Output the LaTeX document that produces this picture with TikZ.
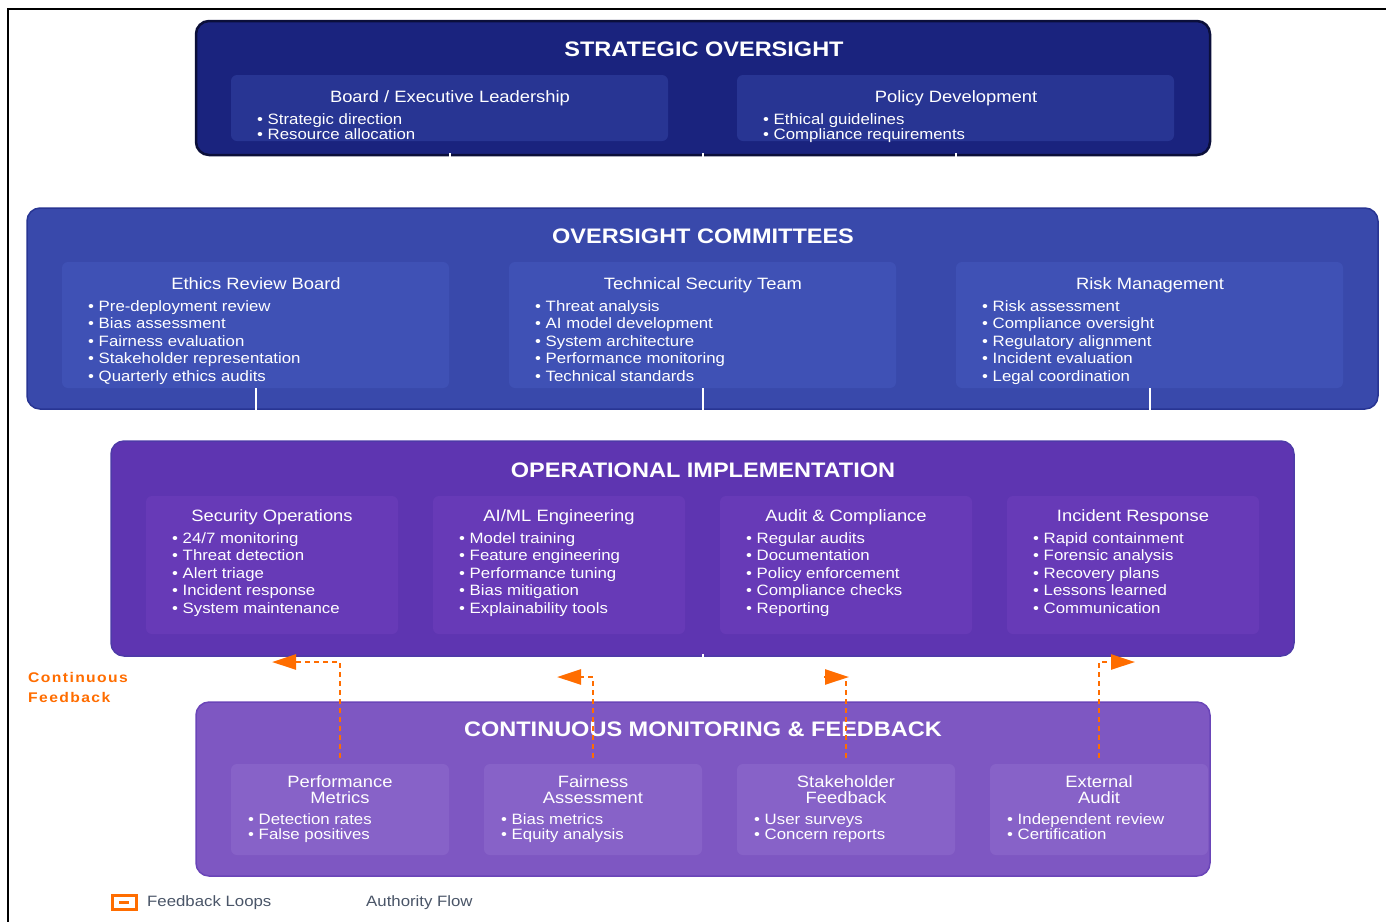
\documentclass[tikz,border=0pt]{standalone}
\usepackage{fontspec}
\setmainfont{Liberation Sans}[FakeStretch=1.12]
\usetikzlibrary{arrows.meta}

\definecolor{stratfill}{HTML}{1A237E}
\definecolor{stratsub}{HTML}{283593}
\definecolor{stratline}{HTML}{0B0F3A}
\definecolor{commfill}{HTML}{3949AB}
\definecolor{commsub}{HTML}{3F51B5}
\definecolor{commline}{HTML}{283593}
\definecolor{opsfill}{HTML}{5E35B1}
\definecolor{opssub}{HTML}{673AB7}
\definecolor{opsline}{HTML}{4E3AA8}
\definecolor{monfill}{HTML}{7E57C2}
\definecolor{monsub}{HTML}{8762C8}
\definecolor{monline}{HTML}{6A45B8}
\definecolor{fborange}{HTML}{FF6D00}
\definecolor{legendgray}{HTML}{4A5568}

% one node per bullet line: name prefix, left x, first baseline, line step, items
\newcommand\bulletitems[5]{%
  \foreach \txt [count=\k from 0] in {#5}{%
    \node[itemtext] (#1-\k) at (#2, {#3+\k*#4}) {• \txt};}}

\tikzset{
  layer/.style={rectangle, rounded corners=13pt, line width=1.5pt, inner sep=0pt},
  subbox/.style={rectangle, rounded corners=6pt, inner sep=0pt},
  layertitle/.style={text=white, font=\fontsize{21}{21}\selectfont\bfseries, anchor=base, inner sep=0pt},
  heading/.style={text=white, font=\fontsize{16.4}{16.4}\selectfont, anchor=base, inner sep=0pt},
  itemtext/.style={text=white, font=\fontsize{15}{15}\selectfont, anchor=base west, inner sep=0pt},
  authority/.style={draw=white, line width=2pt},
  feedback/.style={draw=fborange, line width=2.5pt, dash pattern=on 5pt off 4pt},
  fbtip/.style={-{Triangle[length=24pt,width=15pt]}},
  legendtext/.style={text=legendgray, font=\fontsize{15}{15}\selectfont, anchor=base west, inner sep=0pt},
}

\begin{document}
\begin{tikzpicture}[x=1pt, y=-1pt]
\useasboundingbox (0,0) rectangle (1386,922);
\fill[white] (0,0) rectangle (1386,922);
% page frame
\draw[black, line width=2.5pt] (1386,9) -- (8,9) -- (8,922);

% ---------- strategic oversight ----------
\node[layer, fill=stratfill, draw=stratline, line width=2.5pt,
      minimum width=1014pt, minimum height=134pt] (strat) at (703,88) {};
\node[layertitle] (strat-t) at (704,56) {STRATEGIC OVERSIGHT};
\node[subbox, fill=stratsub, minimum width=437pt, minimum height=66pt] (board) at (449.5,108) {};
\node[subbox, fill=stratsub, minimum width=437pt, minimum height=66pt] (policy) at (955.5,108) {};
\node[heading] (board-h) at (450,102) {Board / Executive Leadership};
\node[heading] (policy-h) at (956,102) {Policy Development};
\bulletitems{board}{257}{124}{15}{Strategic direction,Resource allocation}
\bulletitems{policy}{763}{124}{15}{Ethical guidelines,Compliance requirements}

% authority flow: strategic -> committees
\draw[authority] ([yshift=3pt]strat.south -| board.south) -- (board.south |- 0,210);
\draw[authority] ([yshift=3pt]strat.south) -- (strat.south |- 0,210);
\draw[authority] ([yshift=3pt]strat.south -| policy.south) -- (policy.south |- 0,210);

% ---------- oversight committees ----------
\node[layer, fill=commfill, draw=commline,
      minimum width=1351pt, minimum height=201pt] (comm) at (702.5,308.5) {};
\node[layertitle] (comm-t) at (703,243) {OVERSIGHT COMMITTEES};
\node[subbox, fill=commsub, minimum width=387pt, minimum height=126pt] (ethics) at (255.5,325) {};
\node[subbox, fill=commsub, minimum width=387pt, minimum height=126pt] (tech) at (702.5,325) {};
\node[subbox, fill=commsub, minimum width=387pt, minimum height=126pt] (risk) at (1149.5,325) {};
\node[heading] (ethics-h) at (256,289) {Ethics Review Board};
\node[heading] (tech-h) at (703,289) {Technical Security Team};
\node[heading] (risk-h) at (1150,289) {Risk Management};
\bulletitems{ethics}{88}{311}{17.5}{Pre-deployment review,Bias assessment,Fairness evaluation,Stakeholder representation,Quarterly ethics audits}
\bulletitems{tech}{535}{311}{17.5}{Threat analysis,AI model development,System architecture,Performance monitoring,Technical standards}
\bulletitems{risk}{982}{311}{17.5}{Risk assessment,Compliance oversight,Regulatory alignment,Incident evaluation,Legal coordination}

% authority flow: committees -> operations
\draw[authority] (ethics.south) -- (ethics.south |- 0,443);
\draw[authority] (tech.south) -- (tech.south |- 0,443);
\draw[authority] (risk.south) -- (risk.south |- 0,443);

% ---------- operational implementation ----------
\node[layer, fill=opsfill, draw=opsline,
      minimum width=1183pt, minimum height=215pt] (ops) at (702.5,548.5) {};
\node[layertitle] (ops-t) at (703,477) {OPERATIONAL IMPLEMENTATION};
\node[subbox, fill=opssub, minimum width=252pt, minimum height=138pt] (secops) at (272,565) {};
\node[subbox, fill=opssub, minimum width=252pt, minimum height=138pt] (aiml) at (559,565) {};
\node[subbox, fill=opssub, minimum width=252pt, minimum height=138pt] (audit) at (846,565) {};
\node[subbox, fill=opssub, minimum width=252pt, minimum height=138pt] (incident) at (1133,565) {};
\node[heading] (secops-h) at (272,521) {Security Operations};
\node[heading] (aiml-h) at (559,521) {AI/ML Engineering};
\node[heading] (audit-h) at (846,521) {Audit \& Compliance};
\node[heading] (incident-h) at (1133,521) {Incident Response};
\bulletitems{secops}{172}{543}{17.5}{24/7 monitoring,Threat detection,Alert triage,Incident response,System maintenance}
\bulletitems{aiml}{459}{543}{17.5}{Model training,Feature engineering,Performance tuning,Bias mitigation,Explainability tools}
\bulletitems{audit}{746}{543}{17.5}{Regular audits,Documentation,Policy enforcement,Compliance checks,Reporting}
\bulletitems{incident}{1033}{543}{17.5}{Rapid containment,Forensic analysis,Recovery plans,Lessons learned,Communication}

% authority flow: operations -> monitoring
\draw[authority] ([yshift=3pt]ops.south) -- (ops.south |- 0,704);

% ---------- continuous monitoring & feedback ----------
\node[layer, fill=monfill, draw=monline,
      minimum width=1014pt, minimum height=174pt] (mon) at (703,789) {};
\node[layertitle] (mon-t) at (703,736) {CONTINUOUS MONITORING \& FEEDBACK};
\node[subbox, fill=monsub, minimum width=218pt, minimum height=91pt] (perf) at (340,809.5) {};
\node[subbox, fill=monsub, minimum width=218pt, minimum height=91pt] (fair) at (593,809.5) {};
\node[subbox, fill=monsub, minimum width=218pt, minimum height=91pt] (stake) at (846,809.5) {};
\node[subbox, fill=monsub, minimum width=218pt, minimum height=91pt] (ext) at (1099,809.5) {};
\node[heading] (perf-h1) at (340,787) {Performance};
\node[heading] (perf-h2) at (340,803) {Metrics};
\node[heading] (fair-h1) at (593,787) {Fairness};
\node[heading] (fair-h2) at (593,803) {Assessment};
\node[heading] (stake-h1) at (846,787) {Stakeholder};
\node[heading] (stake-h2) at (846,803) {Feedback};
\node[heading] (ext-h1) at (1099,787) {External};
\node[heading] (ext-h2) at (1099,803) {Audit};
\bulletitems{perf}{248}{824}{15}{Detection rates,False positives}
\bulletitems{fair}{501}{824}{15}{Bias metrics,Equity analysis}
\bulletitems{stake}{754}{824}{15}{User surveys,Concern reports}
\bulletitems{ext}{1007}{824}{15}{Independent review,Certification}

% ---------- feedback loops ----------
\coordinate (fb1) at (272,662);
\coordinate (fb2) at (557,677);
\coordinate (fb3c) at (846,677);
\coordinate (fb3b) at (824,677);
\coordinate (fb3t) at (849,677);
\coordinate (fb4) at (1135,662);
\draw[feedback, fbtip] ([yshift=6pt]perf.north) |- (fb1);
\draw[feedback, fbtip] ([yshift=6pt]fair.north) |- (fb2);
\draw[feedback] ([yshift=6pt]stake.north) -- (fb3c);
\draw[draw=fborange, line width=2.5pt, fbtip] (fb3b) -- (fb3t);
\draw[feedback, fbtip] ([yshift=6pt]ext.north) |- (fb4);

\node[anchor=base west, inner sep=0pt, text=fborange,
      font=\fontsize{14}{14}\selectfont\bfseries\addfontfeatures{LetterSpace=10}]
      (cf1) at (28,682) {Continuous};
\node[anchor=base west, inner sep=0pt, text=fborange,
      font=\fontsize{14}{14}\selectfont\bfseries\addfontfeatures{LetterSpace=10}]
      (cf2) at (28,702) {Feedback};

% ---------- legend ----------
\node[rectangle, draw=fborange, fill=white, line width=3pt, inner sep=0pt,
      minimum width=24pt, minimum height=14pt] (legfb) at (124,902.5) {};
\draw[fborange, line width=3pt] ([xshift=-5pt]legfb.center) -- ([xshift=5pt]legfb.center);
\node[legendtext] (legfb-t) at (147,906) {Feedback Loops};
\node[legendtext] (legauth-t) at (366,906) {Authority Flow};
\end{tikzpicture}
\end{document}
